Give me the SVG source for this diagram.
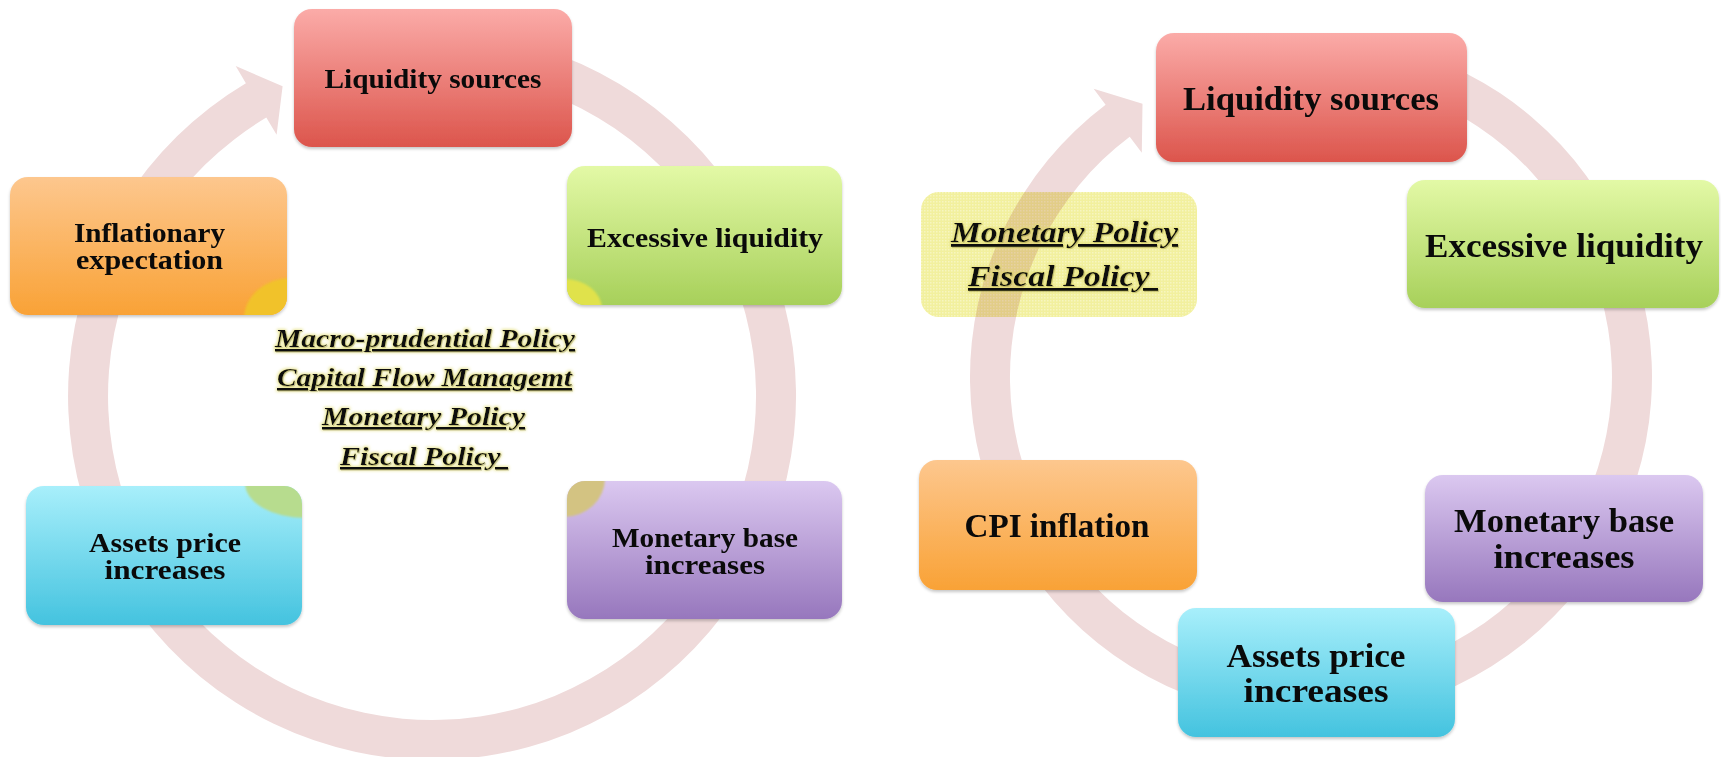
<svg xmlns="http://www.w3.org/2000/svg" width="1721" height="757" viewBox="0 0 1721 757">
  <style>
    .lbl { font-family: "Liberation Serif", "Times New Roman", serif; font-weight: bold; fill: #0a0a0a; text-anchor: middle; }
    .s27 { font-size: 27px; }
    .s32 { font-size: 34px; }
    .pol { font-family: "Liberation Serif", "Times New Roman", serif; font-weight: bold; font-style: italic; fill: #0a0a0a; text-anchor: middle; text-decoration: underline; white-space: pre; filter: url(#glow); }
    .p24 { font-size: 26px; }
    .p27 { font-size: 29px; }
    .ring { fill: #efdada; }
    .box { filter: url(#shadow); }
  </style>
  <defs>
    <linearGradient id="gRed" x1="0" y1="0" x2="0" y2="1">
      <stop offset="0" stop-color="#fbaba8"/>
      <stop offset="1" stop-color="#dc554c"/>
    </linearGradient>
    <linearGradient id="gGreen" x1="0" y1="0" x2="0" y2="1">
      <stop offset="0" stop-color="#e3f9a6"/>
      <stop offset="1" stop-color="#a7d05a"/>
    </linearGradient>
    <linearGradient id="gOrange" x1="0" y1="0" x2="0" y2="1">
      <stop offset="0" stop-color="#fdc78e"/>
      <stop offset="1" stop-color="#f9a236"/>
    </linearGradient>
    <linearGradient id="gCyan" x1="0" y1="0" x2="0" y2="1">
      <stop offset="0" stop-color="#a8effb"/>
      <stop offset="1" stop-color="#44c3df"/>
    </linearGradient>
    <linearGradient id="gPurple" x1="0" y1="0" x2="0" y2="1">
      <stop offset="0" stop-color="#dbc8f0"/>
      <stop offset="1" stop-color="#9777bd"/>
    </linearGradient>
    <pattern id="dots" width="3" height="3" patternUnits="userSpaceOnUse">
      <rect x="0" y="0" width="1.5" height="1.5" fill="#ffffff" fill-opacity="0.35"/>
    </pattern>
    <filter id="shadow" x="-5%" y="-5%" width="110%" height="115%">
      <feDropShadow dx="0" dy="2" stdDeviation="1.5" flood-color="#000" flood-opacity="0.22"/>
    </filter>
    <filter id="glow" x="-10%" y="-40%" width="120%" height="180%">
      <feMorphology in="SourceAlpha" operator="dilate" radius="1" result="d"/>
      <feGaussianBlur in="d" stdDeviation="1.8" result="b"/>
      <feFlood flood-color="#e2dc70" flood-opacity="0.7"/>
      <feComposite in2="b" operator="in" result="halo"/>
      <feOffset in="SourceAlpha" dx="1" dy="1" result="off"/>
      <feFlood flood-color="#000" flood-opacity="0.3"/>
      <feComposite in2="off" operator="in" result="drop"/>
      <feMerge>
        <feMergeNode in="halo"/>
        <feMergeNode in="drop"/>
        <feMergeNode in="SourceGraphic"/>
      </feMerge>
    </filter>
    <filter id="soft" x="-10%" y="-10%" width="120%" height="120%">
      <feGaussianBlur stdDeviation="1.2"/>
    </filter>
    <clipPath id="cIE"><rect x="10" y="177" width="277" height="138" rx="18"/></clipPath>
    <clipPath id="cEL"><rect x="567" y="166" width="275" height="139" rx="18"/></clipPath>
    <clipPath id="cAP"><rect x="26" y="486" width="276" height="139" rx="18"/></clipPath>
    <clipPath id="cMB"><rect x="567" y="481" width="275" height="138" rx="18"/></clipPath>
  </defs>

  <!-- circular flow arrows behind the boxes -->
  <g id="connectors">
    <path id="cycle-left" class="ring" d="M 432 32 A 364 364 0 1 1 245.9 83.2 L 235.7 66 L 282.6 86.2 L 276.6 134.7 L 266.3 117.6 A 324 324 0 1 0 432 72 Z"/>
    <path id="cycle-right" class="ring" d="M 1311 36 A 341 341 0 1 1 1105.6 104.8 L 1093.6 88.8 L 1142.5 103.8 L 1141.8 152.7 L 1129.7 136.7 A 301 301 0 1 0 1311 76 Z"/>
  </g>

  <!-- left cycle -->
  <g id="left-liquidity-sources">
    <rect class="box" x="294" y="9" width="278" height="138" rx="18" fill="url(#gRed)"/>
    <text class="lbl s27" x="433" y="88" textLength="217" lengthAdjust="spacingAndGlyphs">Liquidity sources</text>
  </g>
  <g id="left-excessive-liquidity">
    <rect class="box" x="567" y="166" width="275" height="139" rx="18" fill="url(#gGreen)"/>
    <ellipse clip-path="url(#cEL)" cx="564" cy="309" rx="38" ry="30" fill="#e0e24c" filter="url(#soft)"/>
    <text class="lbl s27" x="705" y="247" textLength="236" lengthAdjust="spacingAndGlyphs">Excessive liquidity</text>
  </g>
  <g id="left-monetary-base">
    <rect class="box" x="567" y="481" width="275" height="138" rx="18" fill="url(#gPurple)"/>
    <ellipse clip-path="url(#cMB)" cx="564" cy="478" rx="41" ry="39" fill="#d3c382" filter="url(#soft)"/>
    <text class="lbl s27" x="705" y="547" textLength="186" lengthAdjust="spacingAndGlyphs">Monetary base</text>
    <text class="lbl s27" x="705" y="574" textLength="120" lengthAdjust="spacingAndGlyphs">increases</text>
  </g>
  <g id="left-assets-price">
    <rect class="box" x="26" y="486" width="276" height="139" rx="18" fill="url(#gCyan)"/>
    <ellipse clip-path="url(#cAP)" cx="305" cy="483" rx="60" ry="35" fill="#b7dc8e" filter="url(#soft)"/>
    <text class="lbl s27" x="165" y="552" textLength="152" lengthAdjust="spacingAndGlyphs">Assets price</text>
    <text class="lbl s27" x="165" y="579" textLength="121" lengthAdjust="spacingAndGlyphs">increases</text>
  </g>
  <g id="left-inflationary-expectation">
    <rect class="box" x="10" y="177" width="277" height="138" rx="18" fill="url(#gOrange)"/>
    <ellipse clip-path="url(#cIE)" cx="291" cy="319" rx="47" ry="41" fill="#f1c22a" filter="url(#soft)"/>
    <text class="lbl s27" x="149.5" y="242" textLength="151" lengthAdjust="spacingAndGlyphs">Inflationary</text>
    <text class="lbl s27" x="149.5" y="269" textLength="147" lengthAdjust="spacingAndGlyphs">expectation</text>
  </g>
  <g id="left-policies">
    <text class="pol p24" x="425" y="347" textLength="300" lengthAdjust="spacingAndGlyphs">Macro-prudential Policy</text>
    <text class="pol p24" x="424.5" y="386" textLength="295" lengthAdjust="spacingAndGlyphs">Capital Flow Managemt</text>
    <text class="pol p24" x="423.5" y="425" textLength="203" lengthAdjust="spacingAndGlyphs">Monetary Policy</text>
    <text class="pol p24" x="424" y="465" textLength="168" lengthAdjust="spacingAndGlyphs">Fiscal Policy </text>
  </g>

  <!-- right cycle -->
  <g id="right-liquidity-sources">
    <rect class="box" x="1156" y="33" width="311" height="129" rx="18" fill="url(#gRed)"/>
    <text class="lbl s32" x="1311" y="110" textLength="256" lengthAdjust="spacingAndGlyphs">Liquidity sources</text>
  </g>
  <g id="right-excessive-liquidity">
    <rect class="box" x="1407" y="180" width="312" height="128" rx="18" fill="url(#gGreen)"/>
    <text class="lbl s32" x="1564" y="257" textLength="278" lengthAdjust="spacingAndGlyphs">Excessive liquidity</text>
  </g>
  <g id="right-monetary-base">
    <rect class="box" x="1425" y="475" width="278" height="127" rx="18" fill="url(#gPurple)"/>
    <text class="lbl s32" x="1564" y="532" textLength="220" lengthAdjust="spacingAndGlyphs">Monetary base</text>
    <text class="lbl s32" x="1564" y="568" textLength="141" lengthAdjust="spacingAndGlyphs">increases</text>
  </g>
  <g id="right-assets-price">
    <rect class="box" x="1178" y="608" width="277" height="129" rx="18" fill="url(#gCyan)"/>
    <text class="lbl s32" x="1316" y="667" textLength="179" lengthAdjust="spacingAndGlyphs">Assets price</text>
    <text class="lbl s32" x="1316" y="702" textLength="145" lengthAdjust="spacingAndGlyphs">increases</text>
  </g>
  <g id="right-cpi-inflation">
    <rect class="box" x="919" y="460" width="278" height="130" rx="18" fill="url(#gOrange)"/>
    <text class="lbl s32" x="1057" y="537" textLength="185" lengthAdjust="spacingAndGlyphs">CPI inflation</text>
  </g>
  <g id="right-policies">
    <g style="mix-blend-mode: multiply">
      <rect x="921" y="192" width="276" height="125" rx="18" fill="#f2f09e"/>
      <rect x="921" y="192" width="276" height="125" rx="18" fill="url(#dots)"/>
    </g>
    <text class="pol p27" x="1064.5" y="242" textLength="227" lengthAdjust="spacingAndGlyphs">Monetary Policy</text>
    <text class="pol p27" x="1063" y="286" textLength="190" lengthAdjust="spacingAndGlyphs">Fiscal Policy </text>
  </g>
</svg>
